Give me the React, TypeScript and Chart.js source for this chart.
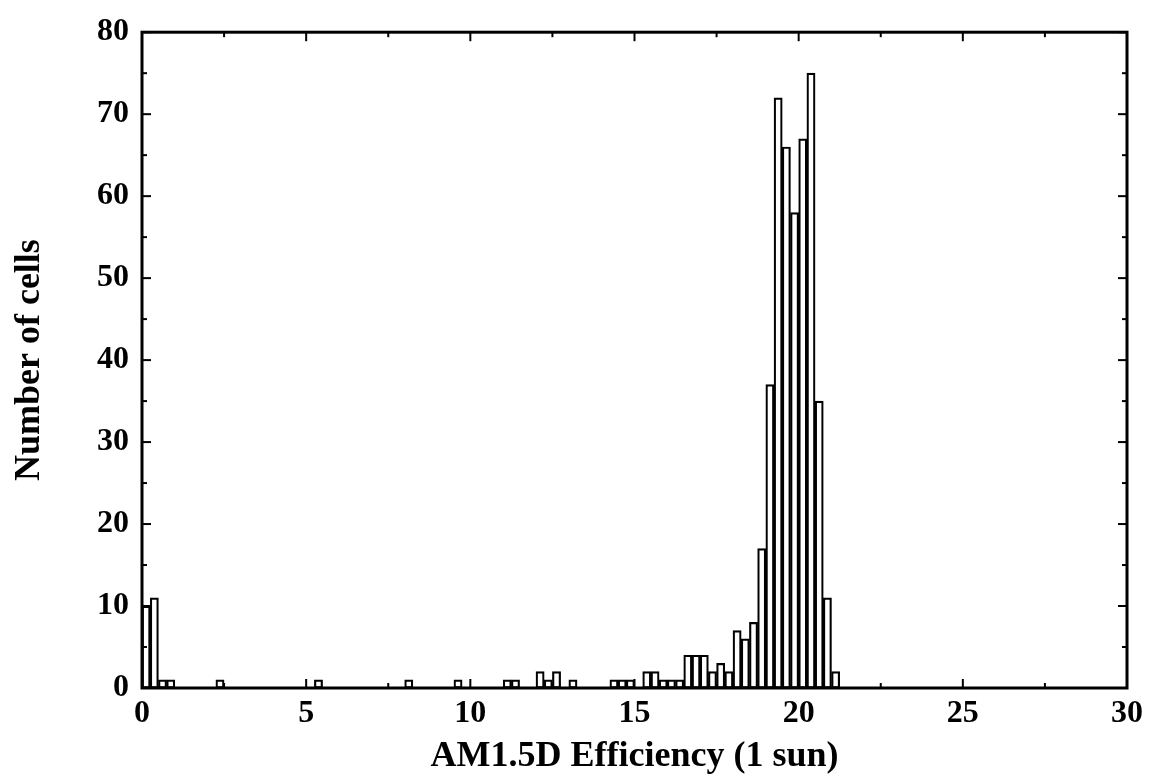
import { useEffect, useRef } from 'react';
import { Chart, registerables } from 'chart.js';

Chart.register(...registerables);

// Histogram bins (bin start, efficiency %) and number of cells in each bin (empty bins omitted)
const binStarts = [
  0.0, 0.25, 0.5, 0.75, 2.25, 5.25, 8.0, 9.5, 11.0, 11.25,
  12.0, 12.25, 12.5, 13.0, 14.25, 14.5, 14.75, 15.25, 15.5, 15.75,
  16.0, 16.25, 16.5, 16.75, 17.0, 17.25, 17.5, 17.75, 18.0, 18.25,
  18.5, 18.75, 19.0, 19.25, 19.5, 19.75, 20.0, 20.25, 20.5, 20.75, 21.0,
];
const counts = [
  10, 11, 1, 1, 1, 1, 1, 1, 1, 1,
  2, 1, 2, 1, 1, 1, 1, 2, 2, 1,
  1, 1, 4, 4, 4, 2, 3, 2, 7, 6,
  8, 17, 37, 72, 66, 58, 67, 75, 35, 11, 2,
];
const binWidth = 0.25;

const xMin = 0;
const xMax = 30;
const xStep = 5;
const yMin = 0;
const yMax = 80;
const yStep = 10;

const xTitle = 'AM1.5D Efficiency (1 sun)';
const yTitle = 'Number of cells';

const serif = '"Liberation Serif", "Times New Roman", "DejaVu Serif", serif';

const framePlugin = {
  id: 'frameTicks',
  afterDatasetsDraw(chart: any) {
    const { ctx, chartArea: a, scales } = chart;
    ctx.save();
    ctx.strokeStyle = '#000';
    ctx.lineCap = 'butt';
    ctx.lineWidth = 3;
    ctx.strokeRect(a.left, a.top, a.right - a.left, a.bottom - a.top);
    ctx.lineWidth = 2;
    const seg = (x1: number, y1: number, x2: number, y2: number) => {
      ctx.beginPath();
      ctx.moveTo(x1, y1);
      ctx.lineTo(x2, y2);
      ctx.stroke();
    };
    for (let v = yMin; v <= yMax; v += yStep / 2) {
      const y = scales.y.getPixelForValue(v);
      const len = v % yStep === 0 ? 9 : 5;
      seg(a.left, y, a.left + len, y);
      seg(a.right, y, a.right - len, y);
    }
    for (let v = xMin; v <= xMax; v += xStep / 2) {
      const x = scales.x.getPixelForValue(v);
      const len = v % xStep === 0 ? 9 : 5;
      seg(x, a.bottom, x, a.bottom - len);
      seg(x, a.top, x, a.top + len);
    }
    ctx.restore();
  },
};

export default function App() {
  const ref = useRef<HTMLCanvasElement | null>(null);

  useEffect(() => {
    if (!ref.current) return;
    const data = binStarts.map((s, i) => ({ x: s + binWidth / 2, y: counts[i] }));
    const chart = new Chart(ref.current, {
      type: 'bar',
      data: {
        datasets: [
          {
            data,
            backgroundColor: '#ffffff',
            borderColor: '#000000',
            borderWidth: 2.2,
            borderSkipped: false,
            barPercentage: 1,
            categoryPercentage: 1,
          },
        ],
      },
      options: {
        responsive: false,
        animation: false,
        layout: { padding: { top: 28, right: 20, left: 0, bottom: 0 } },
        plugins: {
          legend: { display: false },
          tooltip: { enabled: false },
        },
        scales: {
          x: {
            type: 'linear',
            min: xMin,
            max: xMax,
            offset: false,
            grid: { display: false, drawTicks: false, offset: false },
            border: { display: false },
            ticks: {
              stepSize: xStep,
              color: '#000',
              padding: 7,
              maxRotation: 0,
              font: { family: serif, size: 32, weight: 'bold' },
            },
            title: {
              display: true,
              text: xTitle,
              color: '#000',
              font: { family: serif, size: 36, weight: 'bold', lineHeight: 1 },
              padding: { top: 0, bottom: 5 },
            },
            afterFit: (scale: any) => {
              scale.height = 92;
            },
          },
          y: {
            type: 'linear',
            min: yMin,
            max: yMax,
            grid: { display: false, drawTicks: false },
            border: { display: false },
            ticks: {
              stepSize: yStep,
              color: '#000',
              padding: 13,
              font: { family: serif, size: 32, weight: 'bold' },
            },
            title: {
              display: true,
              text: yTitle,
              color: '#000',
              font: { family: serif, size: 36, weight: 'bold', lineHeight: 1 },
              padding: { top: 12, bottom: 0 },
            },
            afterFit: (scale: any) => {
              scale.width = 142;
            },
          },
        },
      },
      plugins: [framePlugin],
    });
    return () => chart.destroy();
  }, []);

  return (
    <div style={{ position: 'absolute', left: 0, top: 0, width: 1150, height: 780, background: '#fff' }}>
      <canvas ref={ref} width={1150} height={780} style={{ width: 1150, height: 780, display: 'block' }} />
    </div>
  );
}
